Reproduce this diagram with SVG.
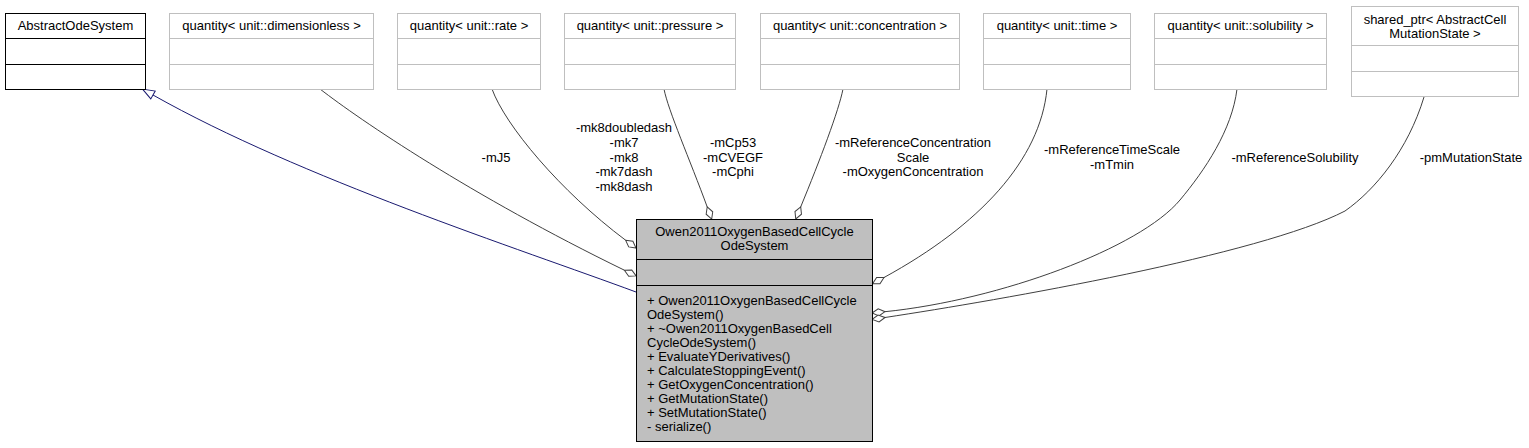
<svg xmlns="http://www.w3.org/2000/svg" width="1529" height="448" viewBox="0 0 1529 448">
<style>
text{font-family:"Liberation Sans",Arial,sans-serif;font-size:13px;fill:#000}
.c{text-anchor:middle}
.box{fill:#fff;stroke:#bfbfbf;stroke-width:1}
.div{stroke:#bfbfbf;stroke-width:1}
.bk{fill:#fff;stroke:#000;stroke-width:1}
.bkd{stroke:#000;stroke-width:1}
.main{fill:#bfbfbf;stroke:#000;stroke-width:1}
.e{fill:none;stroke:#404040;stroke-width:1;marker-end:url(#dia)}
.inh{fill:none;stroke:#191970;stroke-width:1;marker-end:url(#tri)}
</style>
<defs>
<marker id="dia" markerUnits="userSpaceOnUse" markerWidth="14" markerHeight="8" refX="0" refY="0" orient="auto" overflow="visible">
<path d="M0,0 L6.5,-3.5 L13,0 L6.5,3.5 Z" fill="#fff" stroke="#404040" stroke-width="1"/>
</marker>
<marker id="tri" markerUnits="userSpaceOnUse" markerWidth="13" markerHeight="10" refX="0" refY="0" orient="auto" overflow="visible">
<path d="M0,-4.5 L12,0 L0,4.5 Z" fill="#fff" stroke="#191970" stroke-width="1"/>
</marker>
</defs>
<rect width="1529" height="448" fill="#fff"/>

<g id="edges">
<path class="inh" d="M636,292 C520,249 300,178 153,95"/>
<path class="e" d="M320,89 C360,120 470,195 624.4,270.2"/>
<path class="e" d="M492,89 C505,125 560,191 625.6,240.2"/>
<path class="e" d="M664,89 C668,110 690,160 707.2,206.9"/>
<path class="e" d="M843,89 C839,110 820,160 800.7,206.9"/>
<path class="e" d="M1047,89 C1040,160 980,225 884,277.5"/>
<path class="e" d="M1237,89 C1232,130 1205,170 1180,200 C1140,248 1000,300 885,311.7"/>
<path class="e" d="M1424,97 C1408,150 1375,190 1345,211 C1260,255 1000,300 885,317.5"/>
<text class="c" x="496" y="161.5">-mJ5</text>
<text class="c" x="624" y="132">-mk8doubledash</text>
<text class="c" x="624" y="146.8">-mk7</text>
<text class="c" x="624" y="161.5">-mk8</text>
<text class="c" x="624" y="176.3">-mk7dash</text>
<text class="c" x="624" y="191">-mk8dash</text>
<text class="c" x="733" y="146.8">-mCp53</text>
<text class="c" x="733" y="161.5">-mCVEGF</text>
<text class="c" x="733" y="176.3">-mCphi</text>
<text class="c" x="913" y="146.8">-mReferenceConcentration</text>
<text class="c" x="913" y="161.5">Scale</text>
<text class="c" x="913" y="176.3">-mOxygenConcentration</text>
<text class="c" x="1112" y="154.2">-mReferenceTimeScale</text>
<text class="c" x="1112" y="168.9">-mTmin</text>
<text class="c" x="1295" y="161.5">-mReferenceSolubility</text>
<text class="c" x="1471" y="161.5">-pmMutationState</text>
</g>

<g id="AbstractOdeSystem">
<rect class="bk" x="5.5" y="13.5" width="140" height="76"/>
<line class="bkd" x1="5.5" y1="38.5" x2="145.5" y2="38.5"/>
<line class="bkd" x1="5.5" y1="64.5" x2="145.5" y2="64.5"/>
<text class="c" x="75.5" y="30">AbstractOdeSystem</text>
</g>

<g id="q_dimensionless">
<rect class="box" x="169.5" y="13.5" width="204" height="76"/>
<line class="div" x1="169.5" y1="38.5" x2="373.5" y2="38.5"/>
<line class="div" x1="169.5" y1="64.5" x2="373.5" y2="64.5"/>
<text class="c" x="271.5" y="30">quantity&lt; unit::dimensionless &gt;</text>
</g>

<g id="q_rate">
<rect class="box" x="397.5" y="13.5" width="143" height="76"/>
<line class="div" x1="397.5" y1="38.5" x2="540.5" y2="38.5"/>
<line class="div" x1="397.5" y1="64.5" x2="540.5" y2="64.5"/>
<text class="c" x="469" y="30">quantity&lt; unit::rate &gt;</text>
</g>

<g id="q_pressure">
<rect class="box" x="564.5" y="13.5" width="171" height="76"/>
<line class="div" x1="564.5" y1="38.5" x2="735.5" y2="38.5"/>
<line class="div" x1="564.5" y1="64.5" x2="735.5" y2="64.5"/>
<text class="c" x="650" y="30">quantity&lt; unit::pressure &gt;</text>
</g>

<g id="q_concentration">
<rect class="box" x="760.5" y="13.5" width="199" height="76"/>
<line class="div" x1="760.5" y1="38.5" x2="959.5" y2="38.5"/>
<line class="div" x1="760.5" y1="64.5" x2="959.5" y2="64.5"/>
<text class="c" x="860" y="30">quantity&lt; unit::concentration &gt;</text>
</g>

<g id="q_time">
<rect class="box" x="983.5" y="13.5" width="147" height="76"/>
<line class="div" x1="983.5" y1="38.5" x2="1130.5" y2="38.5"/>
<line class="div" x1="983.5" y1="64.5" x2="1130.5" y2="64.5"/>
<text class="c" x="1057" y="30">quantity&lt; unit::time &gt;</text>
</g>

<g id="q_solubility">
<rect class="box" x="1154.5" y="13.5" width="172" height="76"/>
<line class="div" x1="1154.5" y1="38.5" x2="1326.5" y2="38.5"/>
<line class="div" x1="1154.5" y1="64.5" x2="1326.5" y2="64.5"/>
<text class="c" x="1240.5" y="30">quantity&lt; unit::solubility &gt;</text>
</g>

<g id="shared_ptr_mutation">
<rect class="box" x="1351.5" y="6.5" width="167" height="90"/>
<line class="div" x1="1351.5" y1="45.5" x2="1518.5" y2="45.5"/>
<line class="div" x1="1351.5" y1="71.5" x2="1518.5" y2="71.5"/>
<text class="c" x="1435" y="24">shared_ptr&lt; AbstractCell</text>
<text class="c" x="1435" y="38">MutationState &gt;</text>
</g>

<g id="Owen2011OxygenBasedCellCycleOdeSystem">
<rect class="main" x="636.5" y="219.5" width="236" height="222"/>
<line class="bkd" x1="636.5" y1="259.5" x2="872.5" y2="259.5"/>
<line class="bkd" x1="636.5" y1="285.5" x2="872.5" y2="285.5"/>
<text class="c" x="754.5" y="236">Owen2011OxygenBasedCellCycle</text>
<text class="c" x="754.5" y="250">OdeSystem</text>
<text x="647" y="304.5">+ Owen2011OxygenBasedCellCycle</text>
<text x="647" y="318.5">OdeSystem()</text>
<text x="647" y="332.5">+ ~Owen2011OxygenBasedCell</text>
<text x="647" y="346.5">CycleOdeSystem()</text>
<text x="647" y="360.5">+ EvaluateYDerivatives()</text>
<text x="647" y="374.5">+ CalculateStoppingEvent()</text>
<text x="647" y="388.5">+ GetOxygenConcentration()</text>
<text x="647" y="402.5">+ GetMutationState()</text>
<text x="647" y="416.5">+ SetMutationState()</text>
<text x="647" y="430.5">- serialize()</text>
</g>
</svg>
